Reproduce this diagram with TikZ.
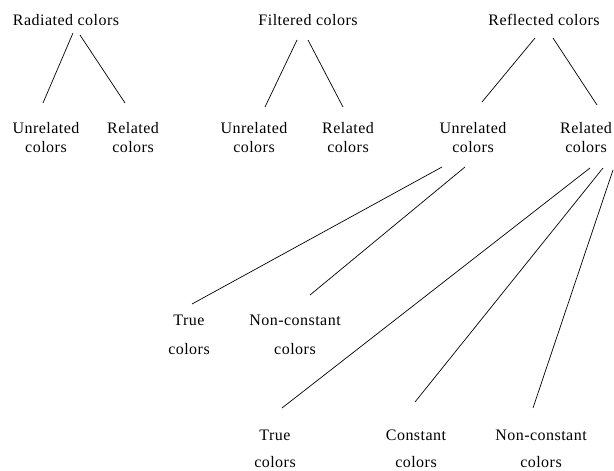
\documentclass[tikz,border=0pt]{standalone}
\usepackage{fontspec}
\setmainfont{Liberation Serif}[LetterSpace=3]
\usetikzlibrary{calc}
\newcommand{\twoline}[3]{\vtop{\baselineskip=#3\lineskip=0pt\halign{\hfil##\hfil\cr #1\cr #2\cr}}}
\tikzset{
  lbl/.style={anchor=base, inner sep=0pt, font=\fontsize{16}{19}\selectfont},
  conn/.style={draw=black, line width=0.7pt}
}
\begin{document}
\begin{tikzpicture}[x=1pt,y=-1pt]
\useasboundingbox (0,0) rectangle (614,471);
% top level
\node[lbl] (rad) at (66,25) {Radiated colors};
\node[lbl] (fil) at (308,25) {Filtered colors};
\node[lbl] (ref) at (544,25) {Reflected colors};
% second level
\node[lbl] (ru) at (46,133) {\twoline{Unrelated}{colors}{19.5pt}};
\node[lbl] (rr) at (133,133) {\twoline{Related}{colors}{19.5pt}};
\node[lbl] (fu) at (254,133) {\twoline{Unrelated}{colors}{19.5pt}};
\node[lbl] (fr) at (348,133) {\twoline{Related}{colors}{19.5pt}};
\node[lbl] (reu) at (473,133) {\twoline{Unrelated}{colors}{19.5pt}};
\node[lbl] (rer) at (586,133) {\twoline{Related}{colors}{19.5pt}};
% third level
\node[lbl] (t1) at (189,325) {\twoline{True}{colors}{29pt}};
\node[lbl] (n1) at (295,325) {\twoline{Non-constant}{colors}{29pt}};
\node[lbl] (t2) at (275,440) {\twoline{True}{colors}{27.5pt}};
\node[lbl] (c2) at (416,440) {\twoline{Constant}{colors}{27.5pt}};
\node[lbl] (n2) at (541,440) {\twoline{Non-constant}{colors}{27.5pt}};
% connectors
\draw[conn] ($(rad.base)+(7,8)$) -- ($(ru.base)+(-3,-30)$);
\draw[conn] ($(rad.base)+(14,10)$) -- ($(rr.base)+(-8,-30)$);
\draw[conn] ($(fil.base)+(-11,15)$) -- ($(fu.base)+(11,-26)$);
\draw[conn] ($(fil.base)+(0,15)$) -- ($(fr.base)+(-5,-26)$);
\draw[conn] ($(ref.base)+(-9,13)$) -- ($(reu.base)+(9,-31)$);
\draw[conn] ($(ref.base)+(9,13)$) -- ($(rer.base)+(11,-28)$);
\draw[conn] ($(reu.base)+(-31,34)$) -- ($(t1.base)+(3,-21)$);
\draw[conn] ($(reu.base)+(-8,34)$) -- ($(n1.base)+(15,-30)$);
\draw[conn] ($(rer.base)+(4,35)$) -- ($(t2.base)+(7,-32)$);
\draw[conn] ($(rer.base)+(17,35)$) -- ($(c2.base)+(-1,-38)$);
\draw[conn] ($(rer.base)+(27,37)$) -- ($(n2.base)+(-8,-32)$);
\end{tikzpicture}
\end{document}
